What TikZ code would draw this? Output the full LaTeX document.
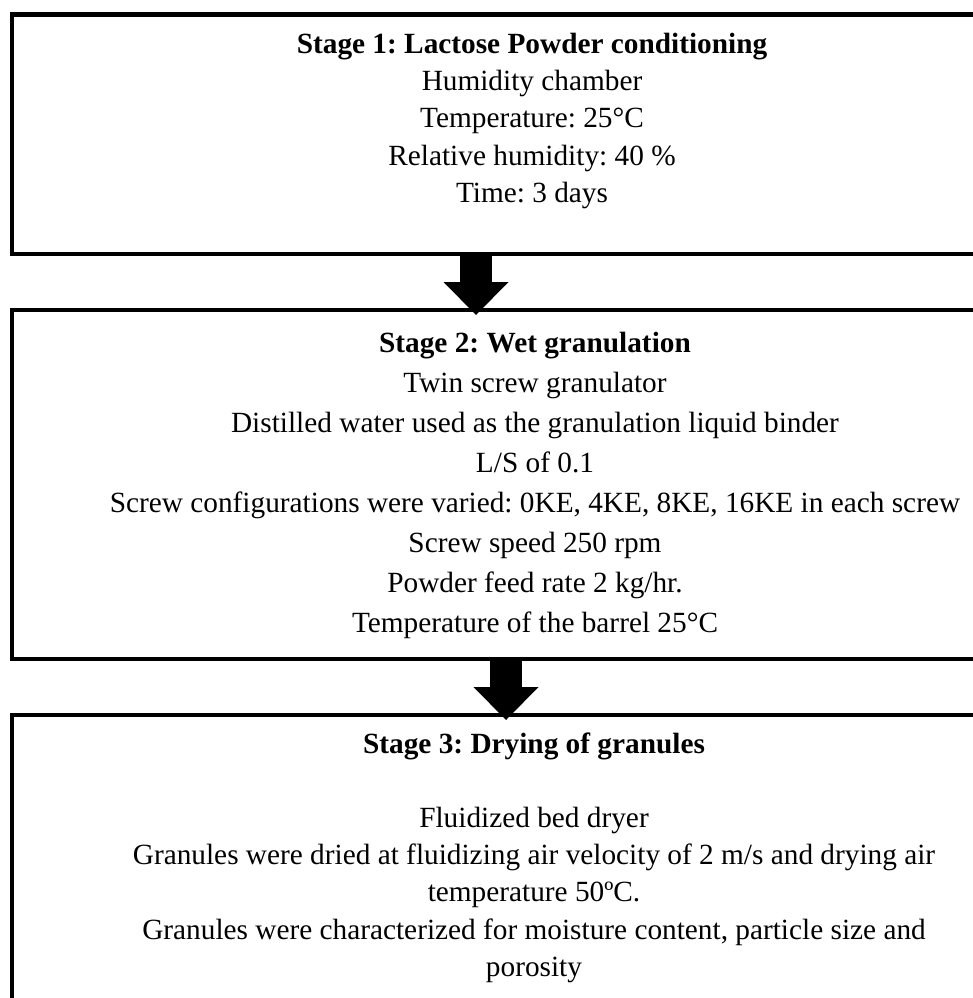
\documentclass[tikz,border=0pt]{standalone}
\usepackage{fontspec}
\setmainfont{Liberation Serif}
\frenchspacing
\usetikzlibrary{arrows.meta}
\begin{document}
\begin{tikzpicture}[x=1pt,y=-1pt,
        stagebox/.style={draw=black,line width=4.5pt,outer sep=0pt,inner sep=0pt,anchor=north west},
        stageline/.style={anchor=base,inner sep=0pt,font=\fontsize{29.3}{37}\selectfont},
        stagetitle/.style={stageline,font=\fontsize{29.3}{37}\selectfont\bfseries},
        blockarrow/.style={line width=32pt,-{Triangle[width=65pt,length=33pt,line width=0pt]}}]
        \useasboundingbox (0,0) rectangle (973,998);
        \clip (0,0) rectangle (973,998);

        % the three stages, cut off at the right edge
        \node[stagebox,minimum width=1048pt,minimum height=239.5pt] at (12,14.5) (stage1) {};
        \node[stagebox,minimum width=1048pt,minimum height=349pt] at (12,310) (stage2) {};
        \node[stagebox,minimum width=1048pt,minimum height=400pt] at (12,715) (stage3) {};

        % stage 1
        \node[stagetitle] at (532,53) (s1title) {Stage 1: Lactose Powder conditioning};
        \foreach \txt [count=\i] in {Humidity chamber, Temperature: 25°C, Relative humidity: 40 \%, Time: 3 days}
            \node[stageline] at (532,53+37.4*\i) (s1line\i) {\txt};

        % stage 2
        \node[stagetitle] at (535,352.5) (s2title) {Stage 2: Wet granulation};
        \foreach \txt [count=\i] in {Twin screw granulator, Distilled water used as the granulation liquid binder, L/S of 0.1,
            {Screw configurations were varied: 0KE, 4KE, 8KE, 16KE in each screw}, Screw speed 250 rpm,
            Powder feed rate 2 kg/hr., Temperature of the barrel 25°C}
            \node[stageline] at (535,352.5+40*\i) (s2line\i) {\txt};

        % stage 3
        \node[stagetitle] at (534,753) (s3title) {Stage 3: Drying of granules};
        \foreach \txt [count=\i] in {Fluidized bed dryer, Granules were dried at fluidizing air velocity of 2 m/s and drying air,
            temperature 50ºC., {Granules were characterized for moisture content, particle size and}, porosity}
            \node[stageline] at (534,753+37.2+37.2*\i) (s3line\i) {\txt};

        \draw[blockarrow] ([xshift=464pt]stage1.south west) -- ([shift={(464,5)}]stage2.north west);
        \draw[blockarrow] ([xshift=494pt]stage2.south west) -- ([shift={(494,5)}]stage3.north west);
    \end{tikzpicture}
\end{document}
